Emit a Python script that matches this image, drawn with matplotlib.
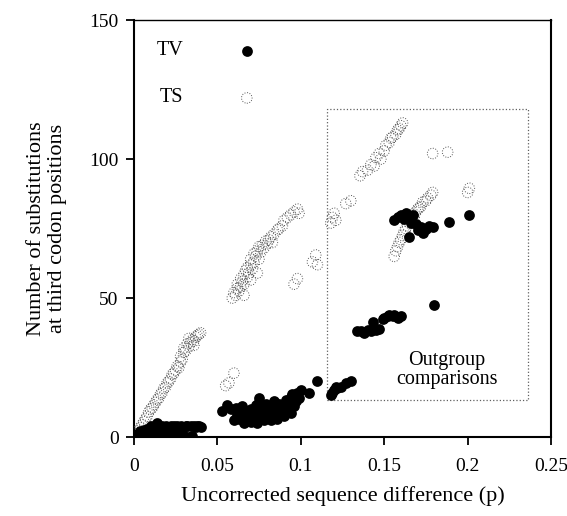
import matplotlib.pyplot as plt
from matplotlib.patches import Rectangle

plt.rcParams['font.family'] = ['Liberation Serif', 'DejaVu Serif']

# transitions (open circles)
ts_x = [0.001, 0.002, 0.003, 0.004, 0.005, 0.006, 0.007, 0.008, 0.009, 0.010,
        0.011, 0.012, 0.013, 0.014, 0.015, 0.016, 0.017, 0.018, 0.019, 0.020,
        0.021, 0.022, 0.023, 0.024, 0.025, 0.026, 0.027, 0.028, 0.028, 0.029,
        0.030, 0.030, 0.031, 0.032, 0.033, 0.034, 0.035, 0.036, 0.037, 0.038,
        0.039, 0.040, 0.033, 0.036,
        0.055, 0.057, 0.060,
        0.059, 0.060, 0.061, 0.062, 0.062, 0.063, 0.064, 0.064, 0.065, 0.066,
        0.066, 0.067, 0.068, 0.068, 0.069, 0.070, 0.070, 0.071, 0.072, 0.072,
        0.073, 0.074, 0.075, 0.075, 0.076, 0.077, 0.078, 0.079, 0.080, 0.081,
        0.082, 0.083, 0.084, 0.086, 0.087, 0.089, 0.090, 0.092, 0.094, 0.096,
        0.098, 0.099, 0.066, 0.070, 0.074,
        0.096, 0.098, 0.107, 0.109, 0.110,
        0.118, 0.119, 0.120, 0.121, 0.127, 0.130, 0.1355, 0.137,
        0.140, 0.142, 0.144, 0.145, 0.147, 0.148, 0.150, 0.151, 0.153, 0.154,
        0.155, 0.157, 0.158, 0.159, 0.160, 0.161,
        0.179, 0.188, 0.201, 0.200,
        0.156, 0.157, 0.158, 0.159, 0.160, 0.161, 0.162, 0.163, 0.165, 0.166,
        0.167, 0.169, 0.170, 0.172, 0.173, 0.175, 0.176, 0.178, 0.179, 0.164,
        0.168, 0.171]
ts_y = [0.5, 1.5, 2.5, 3.5, 4.5, 5.5, 6.5, 7.5, 9.0, 10.0,
        10.5, 11.5, 12.5, 13.5, 14.0, 15.5, 16.0, 17.5, 18.0, 19.5,
        20.0, 21.0, 22.5, 23.0, 24.0, 25.5, 25.0, 27.0, 29.0, 28.0,
        30.5, 32.0, 31.0, 33.5, 32.5, 34.0, 35.0, 34.5, 36.0, 36.5,
        37.0, 37.5, 35.5, 33.0,
        18.5, 19.5, 23.0,
        50.0, 52.0, 51.0, 53.5, 55.0, 52.5, 54.0, 57.0, 56.0, 58.5,
        55.0, 60.0, 57.5, 61.0, 59.0, 62.0, 64.0, 60.5, 63.0, 66.0,
        65.0, 67.0, 64.0, 68.5, 66.5, 69.0, 68.0, 70.5, 69.5, 71.0,
        72.0, 70.0, 73.0, 74.5, 75.0, 76.0, 78.0, 79.0, 80.0, 81.0,
        82.0, 80.5, 51.0, 56.5, 59.0,
        55.0, 57.0, 63.0, 65.5, 62.0,
        77.0, 79.0, 80.5, 78.0, 84.0, 85.0, 94.0, 95.5,
        96.0, 98.0, 97.5, 100.5, 102.0, 100.0, 103.0, 105.0, 106.0, 107.5,
        108.0, 109.0, 110.5, 111.0, 112.0, 113.0,
        102.0, 102.5, 89.5, 88.0,
        65.0, 67.0, 68.5, 70.0, 71.0, 72.5, 74.0, 75.0, 77.0, 78.0,
        80.0, 81.0, 82.0, 83.0, 84.5, 85.0, 86.0, 87.0, 88.0, 76.0,
        79.0, 82.5]

# transversions (filled circles)
tv_x = [0.001, 0.002, 0.003, 0.004, 0.005, 0.006, 0.007, 0.008, 0.009, 0.010,
        0.011, 0.012, 0.013, 0.014, 0.015, 0.016, 0.017, 0.018, 0.019, 0.020,
        0.021, 0.022, 0.023, 0.024, 0.025, 0.026, 0.027, 0.028, 0.029, 0.030,
        0.031, 0.032, 0.033, 0.034, 0.035, 0.036, 0.037, 0.038, 0.039, 0.040,
        0.004, 0.008, 0.012, 0.016, 0.020, 0.024,
        0.053, 0.056, 0.058, 0.060, 0.061, 0.062, 0.063, 0.064, 0.065, 0.066,
        0.067, 0.068, 0.069, 0.070, 0.071, 0.072, 0.073, 0.074, 0.075, 0.076,
        0.077, 0.078, 0.079, 0.080, 0.081, 0.082, 0.083, 0.084, 0.085, 0.086,
        0.087, 0.088, 0.089, 0.090, 0.091, 0.092, 0.093, 0.094, 0.095, 0.096,
        0.097, 0.098, 0.099, 0.100, 0.066, 0.070, 0.074, 0.078, 0.082, 0.086,
        0.090, 0.094, 0.075, 0.105, 0.110,
        0.118, 0.119, 0.120, 0.121, 0.122, 0.124, 0.127, 0.130,
        0.134, 0.136, 0.138, 0.140, 0.142, 0.143, 0.145, 0.147, 0.149, 0.150,
        0.152, 0.153, 0.155, 0.156, 0.158, 0.160, 0.180,
        0.156, 0.158, 0.160, 0.162, 0.163, 0.165, 0.166, 0.167, 0.169, 0.170,
        0.172, 0.173, 0.175, 0.177, 0.179, 0.165, 0.189, 0.201]
tv_y = [0.0, 1.0, 0.5, 2.0, 1.0, 2.5, 1.5, 3.0, 2.0, 4.0,
        3.0, 2.0, 4.0, 5.0, 3.0, 2.5, 4.0, 3.0, 4.0, 3.5,
        2.0, 4.0, 3.0, 4.0, 3.5, 4.0, 3.0, 4.0, 1.0, 0.5,
        4.0, 4.0, 0.0, 4.0, 0.5, 4.0, 3.5, 4.0, 4.0, 3.5,
        0.0, 0.5, 1.0, 0.5, 1.0, 1.5,
        9.5, 11.5, 10.0, 6.0, 10.5, 8.0, 6.5, 9.0, 11.0, 7.0,
        6.0, 9.5, 8.0, 10.0, 6.5, 9.0, 11.5, 7.0, 14.0, 8.5,
        6.5, 10.0, 12.0, 7.5, 9.5, 11.0, 8.0, 13.0, 9.0, 7.0,
        12.0, 10.5, 8.5, 11.5, 13.5, 9.5, 12.5, 14.5, 15.5, 11.0,
        13.0, 16.0, 14.0, 17.0, 5.0, 5.5, 5.0, 6.0, 6.0, 6.5,
        7.5, 8.5, 12.5, 16.0, 20.0,
        15.0, 16.0, 17.0, 18.0, 17.5, 18.0, 19.5, 20.0,
        38.0, 38.0, 37.5, 38.5, 38.0, 41.5, 38.5, 39.0, 42.5, 43.0,
        43.5, 44.0, 43.5, 44.0, 43.0, 43.5, 47.5,
        78.0, 79.0, 80.0, 78.5, 80.5, 79.5, 77.0, 80.0, 76.5, 74.5,
        75.5, 73.5, 75.0, 76.0, 75.5, 72.0, 77.5, 80.0]

fig = plt.figure(figsize=(5.67, 5.16), dpi=100)
ax = fig.add_axes([0.236, 0.153, 0.736, 0.808])

open_style = dict(s=58, facecolors='none', edgecolors='#555555',
                  linewidths=0.7, linestyle=':')
ax.scatter(ts_x, ts_y, zorder=3, **open_style)
ax.scatter(tv_x, tv_y, s=60, color='black', linewidths=0, zorder=4)

# legend drawn inside the plot
ax.scatter([0.0677], [139], s=60, color='black', linewidths=0)
ax.scatter([0.0677], [122], **open_style)
ax.text(0.0216, 139, 'TV', fontsize=14.5, ha='center', va='center')
ax.text(0.0228, 122, 'TS', fontsize=14.5, ha='center', va='center')

ax.add_patch(Rectangle((0.116, 13.3), 0.12, 104.7, fill=False,
                       linestyle=':', linewidth=0.9, edgecolor='#606060'))
ax.text(0.1877, 24, 'Outgroup\ncomparisons', fontsize=14.5,
        ha='center', va='center', linespacing=1.0)

ax.set_xlim(0, 0.25)
ax.set_ylim(0, 150)
ax.set_xticks([0, 0.05, 0.1, 0.15, 0.2, 0.25])
ax.set_xticklabels(['0', '0.05', '0.1', '0.15', '0.2', '0.25'])
ax.set_yticks([0, 50, 100, 150])
ax.tick_params(direction='out', length=6, width=1.3, labelsize=14)
ax.tick_params(axis='x', pad=9)
ax.tick_params(axis='y', pad=5)
for side in ['left', 'bottom', 'right']:
    ax.spines[side].set_linewidth(1.5)
ax.spines['top'].set_linewidth(1.0)

ax.set_xlabel('Uncorrected sequence difference (p)', fontsize=16, labelpad=8)
ax.set_ylabel('Number of substitutions\nat third codon positions', fontsize=16,
              labelpad=16, linespacing=1.15)

fig.savefig('out.png', dpi=100)
